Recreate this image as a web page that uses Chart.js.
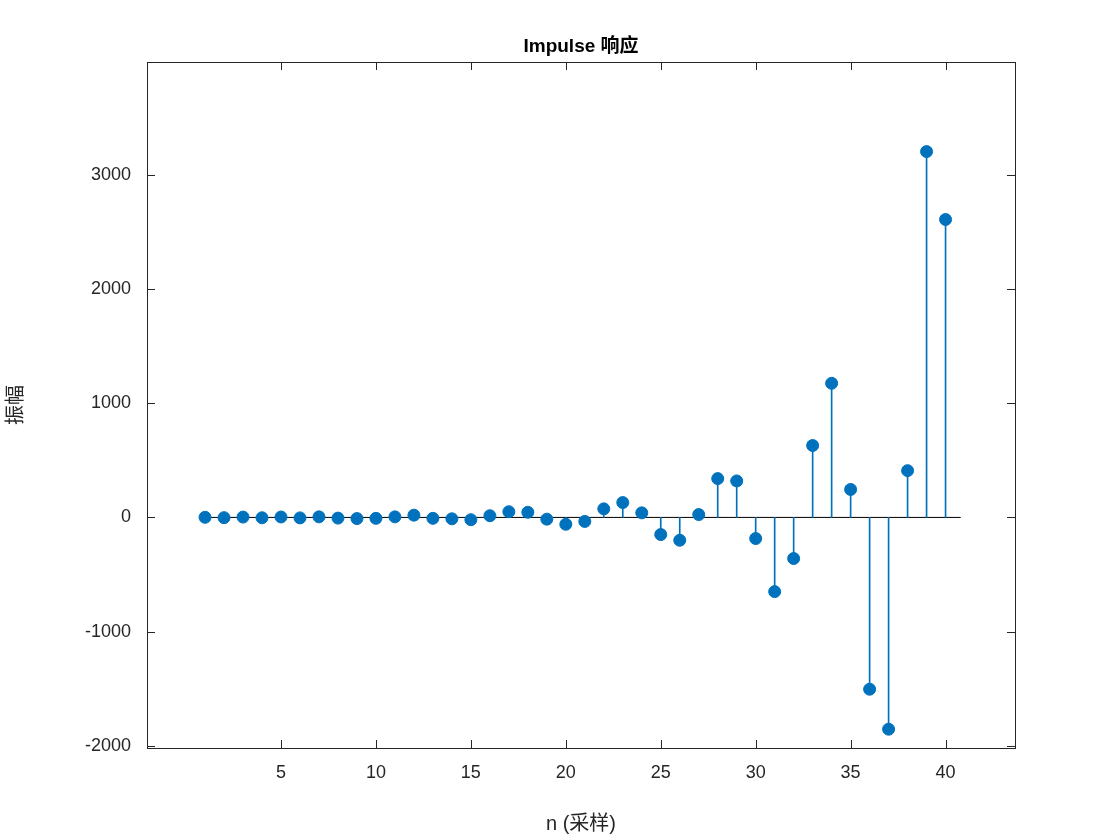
<!DOCTYPE html>
<html>
<head>
<meta charset="utf-8">
<script src="https://cdn.jsdelivr.net/npm/chart.js@4/dist/chart.umd.min.js"></script>
<style>body{margin:0;background:#fff}</style>
</head>
<body>
<canvas id="myChart" width="1120" height="840"></canvas>
<script>
"use strict";

const samples = [];
for (let i = 1; i <= 40; i++) samples.push(i);
const amplitude = [1, -2, 3, -3, 4, -4, 5, -6, -10, -8, 5, 20, -8, -12, -20, 15, 50, 45, -15, -60,
	-35, 75, 130, 40, -150, -200, 25, 340, 320, -185, -650, -360, 630, 1175, 245, -1505, -1855, 410, 3205, 2610];
const xTicks = [5, 10, 15, 20, 25, 30, 35, 40];
const yTicks = [-2000, -1000, 0, 1000, 2000, 3000];

const blue = "#0072BD";
const font = "'Liberation Sans', 'Noto Sans CJK SC', sans-serif";
const points = samples.map(function (n, i) { return { x: n, y: amplitude[i] }; });

const boxPlugin = {
	id: "box",
	afterDraw(chart) {
		const a = chart.chartArea;
		const c = chart.ctx;
		const xs = chart.scales.x, ys = chart.scales.y;
		c.save();
		c.strokeStyle = "#262626";
		c.lineWidth = 1;
		c.strokeRect(a.left + 0.5, a.top + 0.5, a.right - a.left, a.bottom - a.top);
		c.beginPath();
		xTicks.forEach(function (t) {
			const px = Math.round(xs.getPixelForValue(t)) + 0.5;
			c.moveTo(px, a.bottom); c.lineTo(px, a.bottom - 8);
			c.moveTo(px, a.top); c.lineTo(px, a.top + 8);
		});
		yTicks.forEach(function (t) {
			const py = Math.round(ys.getPixelForValue(t)) + 0.5;
			c.moveTo(a.left, py); c.lineTo(a.left + 8, py);
			c.moveTo(a.right, py); c.lineTo(a.right - 8, py);
		});
		c.stroke();
		c.fillStyle = "#000";
		c.font = "bold 19px " + font;
		c.textAlign = "center";
		c.textBaseline = "bottom";
		c.fillText("Impulse 响应", (a.left + a.right) / 2, a.top - 6);
		c.restore();
	}
};

new Chart(document.getElementById("myChart"), {
	data: {
		datasets: [
			{
				type: "scatter",
				data: points,
				backgroundColor: blue,
				borderColor: blue,
				pointRadius: 6,
				pointHoverRadius: 6,
				order: 0
			},
			{
				type: "bar",
				data: points,
				backgroundColor: blue,
				barThickness: 1,
				order: 1
			},
			{
				type: "line",
				data: [{ x: 0.8, y: 0 }, { x: 40.8, y: 0 }],
				borderColor: "#000",
				borderWidth: 1,
				pointRadius: 0,
				order: 2
			}
		]
	},
	options: {
		responsive: false,
		animation: false,
		layout: { padding: { left: 0, right: 105, top: 62, bottom: 0 } },
		plugins: { legend: { display: false }, tooltip: { enabled: false } },
		scales: {
			x: {
				type: "linear",
				min: 0.8,
				max: 40.8,
				afterBuildTicks: function (s) { s.ticks = xTicks.map(function (v) { return { value: v }; }); },
				afterFit: function (s) { s.height = 92; },
				grid: { display: false },
				border: { display: false },
				ticks: { color: "#262626", font: { family: font, size: 18 }, padding: 6, callback: function (v) { return String(v); } },
				title: { display: true, text: "n (采样)", color: "#262626", font: { family: font, size: 20 }, padding: { top: 4 } }
			},
			y: {
				min: -2020,
				max: 3990,
				afterBuildTicks: function (s) { s.ticks = yTicks.map(function (v) { return { value: v }; }); },
				afterFit: function (s) { s.width = 147; },
				grid: { display: false },
				border: { display: false },
				ticks: { color: "#262626", font: { family: font, size: 18 }, padding: 8, callback: function (v) { return String(v); } },
				title: { display: true, text: "振幅", color: "#262626", font: { family: font, size: 20 }, padding: { bottom: 4 } }
			}
		}
	},
	plugins: [boxPlugin]
});
</script>
</body>
</html>
